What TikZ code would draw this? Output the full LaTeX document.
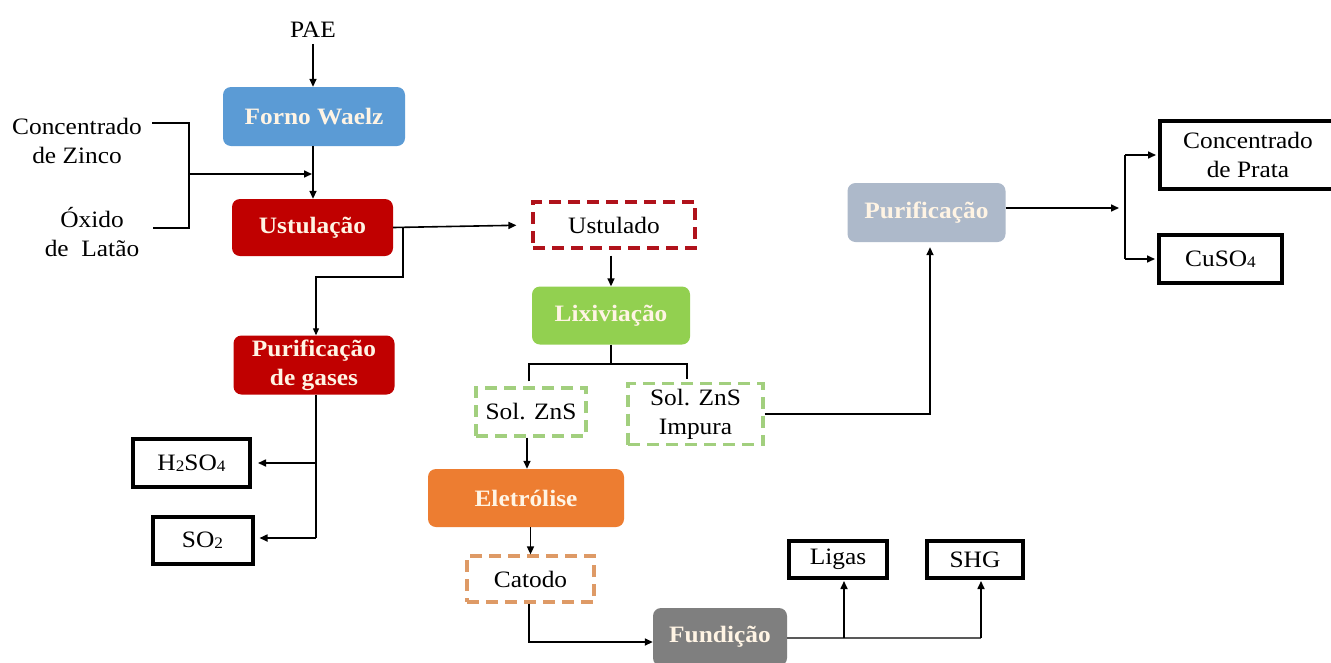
\documentclass[tikz,border=0pt]{standalone}
\usepackage{fontspec}
\setmainfont{Liberation Serif}[FakeStretch=1.08]
\usetikzlibrary{arrows.meta}
\definecolor{cblue}{HTML}{5B9BD5}
\definecolor{cred}{HTML}{C00000}
\definecolor{cdred}{HTML}{B0121B}
\definecolor{cgreen}{HTML}{92D050}
\definecolor{cgreenl}{HTML}{A2CF7E}
\definecolor{cgreyblue}{HTML}{ADB9CA}
\definecolor{corange}{HTML}{ED7D31}
\definecolor{corangel}{HTML}{DE9A66}
\definecolor{cgray}{HTML}{7F7F7F}
\definecolor{cream}{HTML}{FFF4E4}
\newcommand\chemsub[1]{\raisebox{-0.5pt}{\fontsize{16}{16}\selectfont #1}}
\begin{document}
\begin{tikzpicture}[x=1pt,y=-1pt,
  every node/.style={font=\fontsize{23.5}{29}\selectfont, inner sep=0pt},
  proc/.style={rounded corners=8pt, fill=#1, text=cream, align=center,
    font=\bfseries\fontsize{23.5}{29}\selectfont},
  dbox/.style={draw=#1, line width=3.2pt, dash pattern=on 12pt off 7pt, fill=white, align=center},
  obox/.style={draw=black, line width=4pt, fill=white, align=center},
  arr/.style={line width=1.6pt, -{Triangle[length=8pt,width=7pt]}},
  tarr/.style={line width=1.2pt, -{Triangle[length=7pt,width=6pt]}},
  thinl/.style={line width=1.2pt},
  greyl/.style={line width=1.4pt, draw=black!65}]
\fill[white] (0,0) rectangle (1331,662);
\useasboundingbox (0,0) rectangle (1331,662);

% process steps
\node (pae) at (313,30) {PAE};
\node[proc=cblue, minimum width=182pt, minimum height=59pt] (forno) at (314,116.5) {Forno Waelz};
\node[proc=cred, minimum width=161pt, minimum height=57pt] (ust) at (312.5,227.5) {Ustulação};
\node[proc=cred, minimum width=161pt, minimum height=59pt] (gas) at (314,365) {Purificação\\de gases};
\node[dbox=cdred, minimum width=162pt, minimum height=46pt] (ustd) at (614,225) {Ustulado};
\node[proc=cgreen, minimum width=158pt, minimum height=58pt] (lix) at (611,315.5) {Lixiviação};
\node[dbox=cgreenl, minimum width=110pt, minimum height=48pt] (zns) at (531,412) {Sol. ZnS};
\node[dbox=cgreenl, minimum width=135pt, minimum height=61pt] (imp) at (695.5,414) {Sol. ZnS\\Impura};
\node[proc=cgreyblue, minimum width=158pt, minimum height=59pt] (pur) at (926.5,212.5) {Purificação};
\node[proc=corange, minimum width=196pt, minimum height=58pt] (ele) at (526,498) {Eletrólise};
\node[dbox=corangel, minimum width=127pt, minimum height=46pt] (cat) at (530.5,579) {Catodo};
\node[proc=cgray, minimum width=134pt, minimum height=58pt] (fun) at (720,637) {Fundição};

% products
\node[obox, minimum width=176pt, minimum height=68pt] (prata) at (1248,155) {Concentrado\\de Prata};
\node[obox, minimum width=123pt, minimum height=48pt] (cuso) at (1220.5,259) {CuSO\chemsub{4}};
\node[obox, minimum width=117pt, minimum height=48pt] (h2so4) at (191.5,463) {H\chemsub{2}SO\chemsub{4}};
\node[obox, minimum width=100pt, minimum height=47pt] (so2) at (202.5,540) {SO\chemsub{2}};
\node[obox, minimum width=98pt, minimum height=37pt] (ligas) at (838,559.5) {Ligas};
\node[obox, minimum width=96pt, minimum height=37pt] (shg) at (975,559.5) {SHG};

% feeds
\node[align=center] (conc) at (77,141) {Concentrado\\de Zinco};
\node[align=center] (oxi) at (92,232) {Óxido\\de\ \ Latão};

% junction points
\coordinate (bc) at (152,123);
\coordinate (b1) at (189,123);
\coordinate (b2) at (189,228);
\coordinate (bo) at (153,228);
\coordinate (bm) at (189,174);
\coordinate (ub) at (403,228);
\coordinate (ub2) at (403,277);
\coordinate (tl) at (529,364);
\coordinate (tr) at (687,364);
\coordinate (pj) at (1125,208);
\coordinate (gd) at (316,538);
\coordinate (fs) at (981,638);
\coordinate (fl) at (844,638);

% main line
\draw[arr, shorten <=6pt] (pae.south) -- (pae.south |- forno.north);
\draw[arr] (forno.south -| pae) -- (ust.north -| pae);
\draw[thinl] (bc) -- (b1) -- (b2) -- (bo);
\draw[arr, shorten >=1pt] (bm) -- (bm -| pae);
\draw[arr, shorten >=15pt] (ust.east) -- (ustd.west);
\draw[tarr] (ub) -- (ub2) -| ([xshift=2pt]gas.north);
\draw[arr, shorten <=6pt] (ustd.south -| lix.north) -- (lix.north);
\draw[thinl] (lix.south) -- (lix.south |- tl);
\draw[thinl, shorten <=5pt, shorten >=3pt] (zns.north -| tl) -- (tl) -- (tr) -- (imp.north -| tr);
\draw[arr] ([xshift=-4pt]zns.south) -- ([xshift=-4pt]zns.south |- ele.north);
\draw[arr] (ele.south -| cat) -- (cat.north);
\draw[arr] ([xshift=-1.5pt]cat.south) |- ([yshift=-5pt]fun.west);

% impure solution branch
\draw[arr, shorten >=5pt] (imp.east) -| ([xshift=3.5pt]pur.south);
\draw[arr, shorten >=6pt] ([yshift=4.5pt]pur.east) -- (pj);
\draw[thinl] (pj |- prata) -- (pj |- cuso);
\draw[arr, shorten >=2pt] (pj |- prata) -- (prata.west);
\draw[arr, shorten >=2pt] (pj |- cuso) -- (cuso.west);

% gas cleaning outputs
\draw[thinl] ([xshift=2pt]gas.south) -- (gd);
\draw[arr, shorten >=6pt] (gd |- h2so4) -- (h2so4.east);
\draw[arr, shorten >=5pt] (gd) -- (gd -| so2.east);

% casting outputs
\draw[greyl] (fun.east |- fs) -- (fs);
\draw[arr, shorten >=1pt] (fs) -- (fs |- shg.south);
\draw[arr, shorten >=1pt] (fl) -- (fl |- ligas.south);
\end{tikzpicture}
\end{document}
